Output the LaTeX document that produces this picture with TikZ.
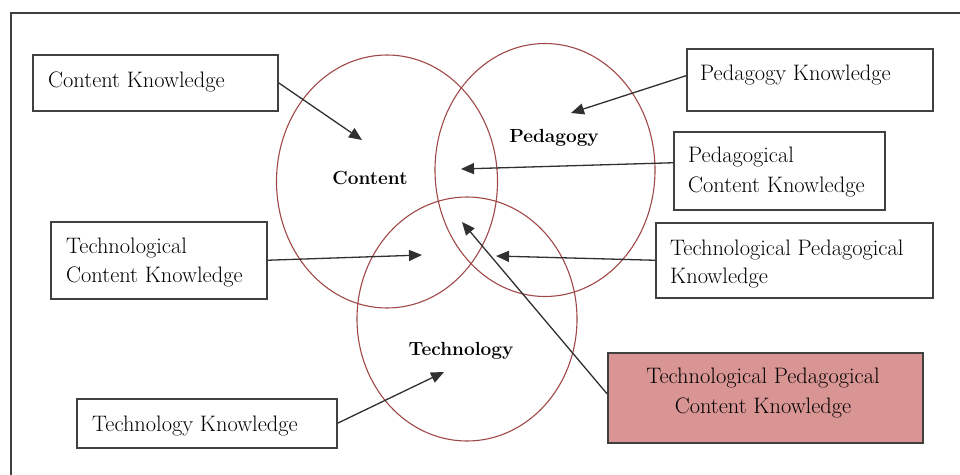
\documentclass[tikz,border=0pt]{standalone}
\usetikzlibrary{arrows.meta,shapes.geometric}
\definecolor{boxline}{HTML}{404040}
\definecolor{ringcol}{HTML}{A04848}
\definecolor{tpckfill}{HTML}{D99594}
\definecolor{linkcol}{HTML}{303030}
\tikzset{
  kbox/.style={draw=boxline,line width=1.5pt,rectangle,inner sep=0pt,anchor=north west},
  ktext/.style={font=\fontsize{22.4}{26}\selectfont,inner sep=0pt,anchor=base west},
  ktextc/.style={font=\fontsize{22.4}{26}\selectfont,inner sep=0pt,anchor=base},
  ringline/.style={draw=ringcol,line width=1.1pt},
  ctext/.style={font=\fontsize{19}{23}\selectfont\bfseries,inner sep=0pt,anchor=base},
  link/.style={draw=linkcol,line width=1.3pt,-{Triangle[length=13pt,width=11pt]}},
  frameline/.style={draw=boxline,line width=1.4pt}
}
\begin{document}
\begin{tikzpicture}[x=1pt,y=-1pt]
\useasboundingbox (0,0) rectangle (960,474);
% frame
\draw[frameline] (11,480) -- (11,13) -- (965,13);
% circles
\draw[ringline] (387,181.5) ellipse [x radius=110.5, y radius=126.5];
\draw[ringline] (545,170) ellipse [x radius=110, y radius=126.5];
\draw[ringline] (467,319) ellipse [x radius=110, y radius=122];
% circle labels
\node[ctext] (lcontent) at (370,184) {Content};
\node[ctext] (lped) at (554,142) {Pedagogy};
\node[ctext] (ltech) at (461,355) {Technology};
% boxes
\node[kbox,minimum width=245pt,minimum height=56pt] (ck) at (32,54) {};
\node[kbox,minimum width=246pt,minimum height=62pt] (pk) at (686,48) {};
\node[kbox,minimum width=211pt,minimum height=78pt] (pck) at (673,131) {};
\node[kbox,minimum width=277pt,minimum height=75pt] (tpk) at (655,222) {};
\node[kbox,minimum width=216pt,minimum height=77pt] (tck) at (50,221) {};
\node[kbox,minimum width=260pt,minimum height=49pt] (tk) at (76,398) {};
\node[kbox,fill=tpckfill,minimum width=315pt,minimum height=90pt] (tpck) at (607,352) {};
% box texts
\node[ktext] (tck1) at (48,87) {Content Knowledge};
\node[ktext] (tpk1) at (700,80) {Pedagogy Knowledge};
\node[ktext] (tpcka) at (688,162) {Pedagogical};
\node[ktext] (tpckb) at (688,192) {Content Knowledge};
\node[ktext] (ttpka) at (670,255) {Technological Pedagogical};
\node[ktext] (ttpkb) at (670,283) {Knowledge};
\node[ktext] (ttcka) at (66,253) {Technological};
\node[ktext] (ttckb) at (66,282) {Content Knowledge};
\node[ktext] (ttk) at (92,431) {Technology Knowledge};
\node[ktextc] (ttpcka) at (763,383) {Technological Pedagogical};
\node[ktextc] (ttpckb) at (763,413) {Content Knowledge};
% arrow tips
\coordinate (tipck) at (362,140);
\coordinate (tippk) at (571,113);
\coordinate (tippck) at (461,169);
\coordinate (tiptck) at (422,255);
\coordinate (tiptpk) at (496,256);
\coordinate (tiptpck) at (462,222);
\coordinate (tiptk) at (444,372);
% connectors
\draw[link] (ck.east) -- (tipck);
\draw[link] ([yshift=4pt]pk.west) -- (tippk);
\draw[link] ([yshift=8pt]pck.west) -- (tippck);
\draw[link] (tck.east) -- (tiptck);
\draw[link] (tpk.west) -- (tiptpk);
\draw[link] ([yshift=4pt]tpck.west) -- (tiptpck);
\draw[link] (tk.east) -- (tiptk);
\end{tikzpicture}
\end{document}
